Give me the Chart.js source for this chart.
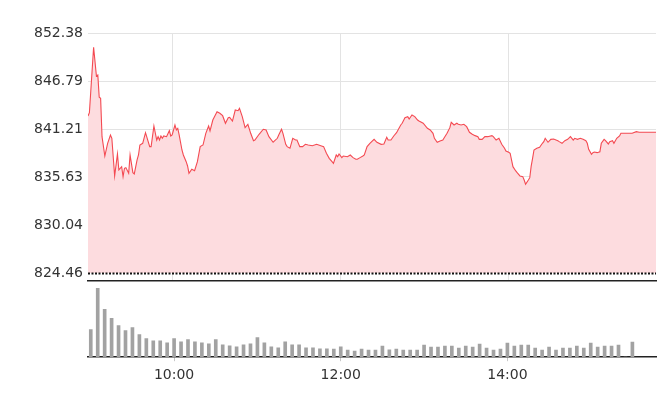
<!DOCTYPE html>
<html><head><meta charset="utf-8">
<script src="https://cdn.jsdelivr.net/npm/chart.js@4/dist/chart.umd.min.js"></script>
<style>
html,body{margin:0;padding:0;background:#fff;}
#wrap{position:relative;width:658px;height:408px;overflow:hidden;}
#p{position:absolute;left:0;top:0;}
#v{position:absolute;left:0;top:282px;}
</style></head><body>
<div id="wrap">
<canvas id="p" width="658" height="290"></canvas>
<canvas id="v" width="658" height="126"></canvas>
</div>
<script>
const yTickValues = [824.46, 830.04, 835.63, 841.21, 846.79, 852.38];
const xTickTimes = ['10:00', '12:00', '14:00'];

const priceTimes = ['9:00','9:01','9:04','9:06','9:07','9:08','9:09','9:10','9:12','9:14','9:16','9:17','9:19','9:21','9:22','9:24','9:25','9:26','9:27','9:29','9:30','9:32','9:33','9:35','9:36','9:37','9:39','9:41','9:44','9:45','9:47','9:49','9:50','9:51','9:52','9:53','9:54','9:56','9:58','9:59',
'10:00','10:02','10:03','10:04','10:05','10:07','10:08','10:10','10:11','10:12','10:14','10:16','10:18','10:20','10:22','10:24','10:26','10:27','10:29','10:32','10:34','10:36','10:38','10:40','10:41','10:43','10:45','10:47','10:48','10:50','10:52','10:54','10:56','10:58','10:59',
'11:02','11:03','11:05','11:07','11:09','11:12','11:15','11:16','11:18','11:19','11:21','11:22','11:24','11:26','11:28','11:29','11:31','11:33','11:35','11:37','11:40','11:43','11:46','11:48','11:50','11:52','11:54','11:55','11:57','11:58','11:59',
'12:01','12:02','12:05','12:07','12:09','12:11','12:12','12:14','12:16','12:17','12:19','12:21','12:24','12:26','12:29','12:31','12:33','12:34','12:36','12:38','12:40','12:43','12:44','12:46','12:48','12:49','12:51','12:53','12:55','12:56','12:59',
'13:02','13:04','13:06','13:07','13:09','13:11','13:13','13:14','13:16','13:18','13:19','13:21','13:23','13:24','13:26','13:28','13:30','13:32','13:34','13:36','13:38','13:39','13:41','13:43','13:45','13:48','13:49','13:51','13:53','13:55','13:57','13:58',
'14:00','14:01','14:03','14:05','14:06','14:08','14:10','14:11','14:12','14:14','14:15','14:16','14:17','14:18','14:20','14:22','14:24','14:25','14:26','14:28','14:30','14:32','14:35','14:36','14:38','14:40','14:42','14:44','14:46','14:47','14:49','14:51','14:53','14:55','14:56','14:57','14:59',
'15:00','15:01','15:03','15:05','15:06','15:08','15:09','15:11','15:12','15:14','15:15','15:17','15:19','15:20','15:23','15:28','15:31','15:33','15:45'];

const priceValues = [842.73,843.11,850.72,847.38,847.50,844.90,844.78,840.32,838.07,839.55,840.52,840.13,835.75,838.31,836.45,836.83,835.67,836.64,836.72,836.06,838.19,836.13,835.98,837.61,838.19,839.35,839.55,840.78,839.16,839.16,841.56,839.93,840.32,839.93,840.40,840.13,840.40,840.32,841.02,840.40,
840.52,841.68,841.10,841.29,840.52,838.77,838.19,837.41,836.91,836.06,836.53,836.36,837.41,839.16,839.35,840.71,841.56,840.98,842.26,843.23,843.04,842.76,841.88,842.53,842.57,842.14,843.42,843.34,843.62,842.65,841.37,841.76,840.71,839.85,839.93,
840.60,840.78,841.18,841.10,840.32,839.67,840.13,840.52,841.18,840.71,839.43,839.16,838.97,840.13,839.93,839.93,839.16,839.16,839.43,839.35,839.27,839.43,839.27,839.16,838.39,837.80,837.41,837.22,838.19,837.99,838.31,
837.88,838.07,837.99,838.19,837.88,837.69,837.69,837.88,838.07,838.19,839.16,839.55,840.01,839.67,839.43,839.47,840.25,839.93,839.93,840.40,840.78,841.68,841.88,842.53,842.65,842.38,842.84,842.65,842.26,842.14,841.88,
841.29,841.10,840.71,840.13,839.67,839.82,839.93,840.20,840.71,841.37,841.99,841.68,841.88,841.76,841.68,841.76,841.48,840.83,840.60,840.44,840.32,840.01,840.01,840.32,840.32,840.44,840.32,839.93,840.13,839.43,838.97,838.65,
838.50,838.39,836.83,836.33,836.13,835.75,835.67,835.28,834.78,835.28,835.55,836.90,837.80,838.77,838.97,839.09,839.55,839.74,840.13,839.67,840.01,840.05,839.85,839.74,839.55,839.85,840.01,840.32,839.93,840.13,840.01,840.13,840.01,839.85,839.55,838.85,838.27,
838.46,838.54,838.46,838.57,839.55,840.01,839.85,839.47,839.74,839.85,839.55,840.13,840.40,840.71,840.71,840.71,840.90,840.83,840.83];

const volumeTimes = ['9:00','9:05','9:10','9:15','9:20','9:25','9:30','9:35','9:40','9:45','9:50','9:55',
'10:00','10:05','10:10','10:15','10:20','10:25','10:30','10:35','10:40','10:45','10:50','10:55',
'11:00','11:05','11:10','11:15','11:20','11:25','11:30','11:35','11:40','11:45','11:50','11:55',
'12:00','12:05','12:10','12:15','12:20','12:25','12:30','12:35','12:40','12:45','12:50','12:55',
'13:00','13:05','13:10','13:15','13:20','13:25','13:30','13:35','13:40','13:45','13:50','13:55',
'14:00','14:05','14:10','14:15','14:20','14:25','14:30','14:35','14:40','14:45','14:50','14:55',
'15:00','15:05','15:10','15:15','15:20','15:25','15:30'];

const volumeValues = [273,683,473,383,313,263,293,223,183,163,163,143,
183,153,173,153,143,133,173,123,113,103,123,133,
193,143,103,93,153,123,123,93,93,83,83,80,
103,70,60,80,70,70,110,73,80,70,70,70,
120,100,100,110,110,90,110,100,130,90,70,80,
140,110,120,120,90,70,100,70,90,90,110,90,
140,100,110,110,120,0,150];

function toMin(s){ const p = s.split(':'); return (+p[0]) * 60 + (+p[1]); }

const FONT = {family: 'DejaVu Sans', size: 14};
const TEXT = '#333333';
const GRID = '#e3e3e3';

const baselinePlugin = {
  id: 'baseline',
  afterDatasetsDraw(chart) {
    const ctx = chart.ctx, a = chart.chartArea;
    const y = Math.round(chart.scales.y.getPixelForValue(yTickValues[0])) + 0.5;
    ctx.save();
    ctx.strokeStyle = '#111';
    ctx.lineWidth = 2;
    ctx.setLineDash([2, 1.5]);
    ctx.beginPath();
    ctx.moveTo(a.left, y);
    ctx.lineTo(a.right, y);
    ctx.stroke();
    ctx.restore();
  }
};

new Chart(document.getElementById('p'), {
  type: 'line',
  data: {
    datasets: [{
      data: priceTimes.map((t, i) => ({x: toMin(t), y: priceValues[i]})),
      borderColor: '#f44a52',
      borderWidth: 1.1,
      backgroundColor: '#fddcdf',
      fill: {value: yTickValues[0]},
      pointRadius: 0,
      tension: 0
    }]
  },
  options: {
    responsive: false,
    animation: false,
    layout: {padding: {left: 0, right: 2, top: 33, bottom: 9}},
    plugins: {legend: {display: false}, tooltip: {enabled: false}},
    scales: {
      x: {
        type: 'linear', min: 540, max: 945, offset: false,
        afterBuildTicks: s => { s.ticks = xTickTimes.map(t => ({value: toMin(t)})); },
        afterFit: s => { s.height = 0; s.paddingLeft = 0; s.paddingRight = 0; },
        ticks: {display: false},
        grid: {color: GRID, drawTicks: false},
        border: {display: true, color: '#222', width: 1.5}
      },
      y: {
        min: 823.53, max: 852.38,
        afterBuildTicks: s => { s.ticks = yTickValues.map(v => ({value: v})); },
        afterFit: s => { s.width = 88; s.paddingTop = 0; s.paddingBottom = 0; },
        ticks: {padding: 5, color: TEXT, font: FONT, callback: v => Number(v).toFixed(2)},
        grid: {
          color: c => (c.tick && c.tick.value === yTickValues[0]) ? 'rgba(0,0,0,0)' : GRID,
          drawTicks: false
        },
        border: {display: false}
      }
    }
  },
  plugins: [baselinePlugin]
});

new Chart(document.getElementById('v'), {
  type: 'bar',
  data: {
    datasets: [{
      data: volumeTimes.map((t, i) => ({x: toMin(t), y: volumeValues[i]})),
      backgroundColor: '#a2a2a2',
      barThickness: 3
    }]
  },
  options: {
    responsive: false,
    animation: false,
    layout: {padding: {left: 88, right: 2, top: 6, bottom: 18}},
    plugins: {legend: {display: false}, tooltip: {enabled: false}},
    scales: {
      x: {
        type: 'linear', min: 538, max: 947, offset: false,
        afterBuildTicks: s => { s.ticks = xTickTimes.map(t => ({value: toMin(t)})); },
        ticks: {
          color: TEXT, font: FONT, padding: 6, autoSkip: false, maxRotation: 0,
          callback: v => { const i = xTickTimes.findIndex(t => toMin(t) === v); return i >= 0 ? xTickTimes[i] : ''; }
        },
        grid: {drawOnChartArea: false, drawTicks: true, tickLength: 4, color: '#c8c8c8', offset: false},
        border: {display: true, color: '#222', width: 1.5}
      },
      y: {display: false, min: 0, max: 684}
    }
  }
});
</script>
</body></html>
